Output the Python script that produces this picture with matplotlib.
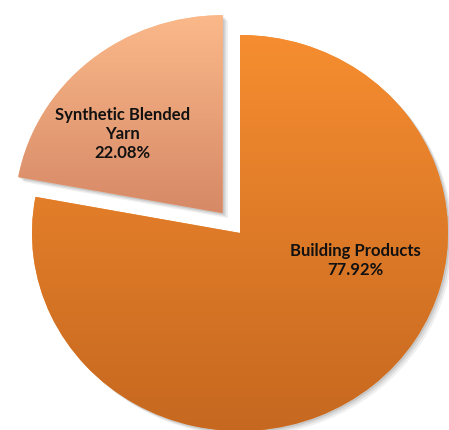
import numpy as np
import matplotlib.pyplot as plt
import matplotlib.patches as mpatches

labels = ['Building Products', 'Synthetic Blended\nYarn']
shares = [77.92, 22.08]
explode = [0.0, 0.13]
top_colors = ['#F68D30', '#FBB98A']
bottom_colors = ['#C66820', '#D68966']
label_pos = [(0.553, -0.14), (-0.567, 0.50)]

fig = plt.figure(figsize=(4.49, 4.30), dpi=100)
ax = fig.add_axes([0, 0, 1, 1])
wedges, _ = ax.pie(shares, explode=explode, startangle=90, counterclock=False,
                   radius=1.0, colors=top_colors, wedgeprops=dict(linewidth=0))

# slightly wider than tall, like the original
ax.set_aspect('auto')

for w, c0, c1 in zip(wedges, top_colors, bottom_colors):
    # soft drop shadow
    for k, a in [(0.018, 0.06), (0.012, 0.08), (0.006, 0.10)]:
        sh = mpatches.Shadow(w, k, -k)
        sh.set_facecolor('black')
        sh.set_alpha(a)
        sh.set_zorder(0)
        ax.add_patch(sh)
    # vertical gradient fill
    c0 = np.array(plt.matplotlib.colors.to_rgb(c0))
    c1 = np.array(plt.matplotlib.colors.to_rgb(c1))
    t = np.linspace(0, 1, 256)[:, None]
    grad = (c0 * (1 - t) + c1 * t)[:, None, :]
    ext = w.get_path().get_extents(w.get_patch_transform())
    im = ax.imshow(grad, extent=[ext.x0, ext.x1, ext.y0, ext.y1], origin='upper',
                   aspect='auto', zorder=2)
    im.set_clip_path(w)

ax.set_xlim(-240 / 208, 209 / 208)
ax.set_ylim(-197 / 198, 233 / 198)

for lab, s, (x, y) in zip(labels, shares, label_pos):
    ax.text(x, y, f"{lab}\n{s:.2f}%", ha='center', va='center', fontsize=12,
            fontweight='bold', family='Lato', linespacing=1.2, color='#111111',
            zorder=5)

ax.axis('off')
fig.savefig('out.png', dpi=100)
